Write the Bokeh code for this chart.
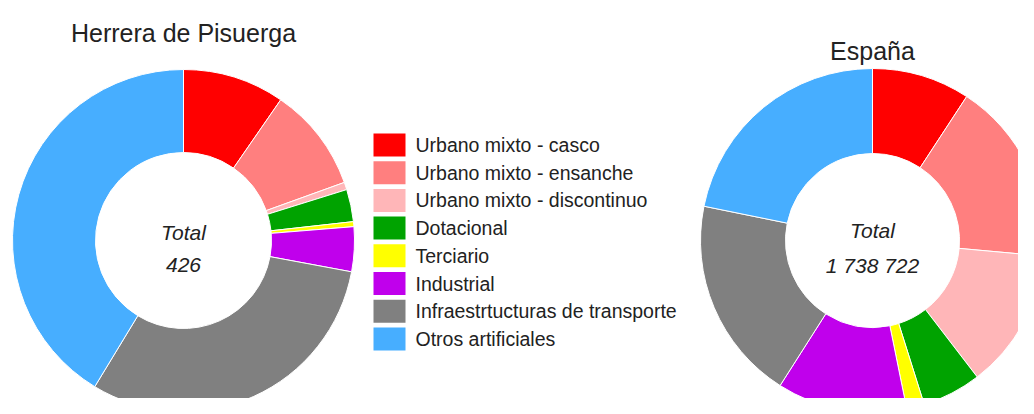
import numpy as np
from bokeh.plotting import figure
from bokeh.models import ColumnDataSource, Range1d
from bokeh.core.properties import value
from bokeh.embed import file_html
from bokeh.resources import INLINE

categories = [
    "Urbano mixto - casco",
    "Urbano mixto - ensanche",
    "Urbano mixto - discontinuo",
    "Dotacional",
    "Terciario",
    "Industrial",
    "Infraestrtucturas de transporte",
    "Otros artificiales",
]
colors = ["#FF0000", "#FF7F7F", "#FFB6B8", "#00A300", "#FFFF00", "#C000EC", "#808080", "#47AEFF"]
herrera_values = [41, 42, 3, 13, 2, 18, 131, 176]
espana_values = [160340, 299450, 228450, 96600, 28980, 212510, 333250, 379142]
titles = ["Herrera de Pisuerga", "España"]

W, H = 1018, 398
FONT = "Liberation Sans"
TXT = "#222222"

p = figure(width=W, height=H, output_backend="svg", toolbar_location=None,
           x_range=Range1d(0, W), y_range=Range1d(0, H), min_border=0,
           x_axis_location=None, y_axis_location=None, outline_line_color=None)
p.xgrid.visible = False
p.ygrid.visible = False


def Y(img_y):
    # convert pixel row (from top) to data y
    return H - img_y


def donut(cx, cy, r_in, r_out, vals, title, title_y, total_y1, total_y2):
    v = np.array(vals, dtype=float)
    frac = v / v.sum()
    cum = np.concatenate([[0.0], np.cumsum(frac)])
    start = np.pi / 2 - cum[1:] * 2 * np.pi
    end = np.pi / 2 - cum[:-1] * 2 * np.pi
    src = ColumnDataSource(dict(start=start, end=end, color=colors, cat=categories))
    p.annular_wedge(x=cx, y=Y(cy), inner_radius=r_in, outer_radius=r_out,
                    start_angle="start", end_angle="end", fill_color="color",
                    line_color="white", line_width=1, source=src)
    p.text(x=[cx], y=[Y(title_y)], text=[title], text_font=value(FONT),
           text_font_size="25px", text_color=TXT, text_align="center",
           text_baseline="alphabetic")
    total = int(sum(vals))
    p.text(x=[cx, cx], y=[Y(total_y1), Y(total_y2)],
           text=["Total", f"{total:,}".replace(",", " ")], text_font=value(FONT),
           text_font_size="21px", text_font_style="italic", text_color=TXT,
           text_align="center", text_baseline="alphabetic")


donut(183, 240, 88, 171, herrera_values, titles[0], 32, 232, 264)
donut(872, 240, 87, 172, espana_values, titles[1], 50, 230, 265)

# legend
n = len(categories)
row = np.arange(n)
ly = 144.5 + row * 27.7
lsrc = ColumnDataSource(dict(x=[389] * n, y=[Y(v) for v in ly], color=colors,
                             tx=[415] * n, cat=categories))
p.rect(x="x", y="y", width=32, height=23, fill_color="color", line_color=None, source=lsrc)
p.text(x="tx", y="y", text="cat", text_font=value(FONT), text_font_size="19.5px",
       text_color=TXT, text_align="left", text_baseline="middle", source=lsrc)

open("out.html", "w").write(file_html(p, INLINE))
